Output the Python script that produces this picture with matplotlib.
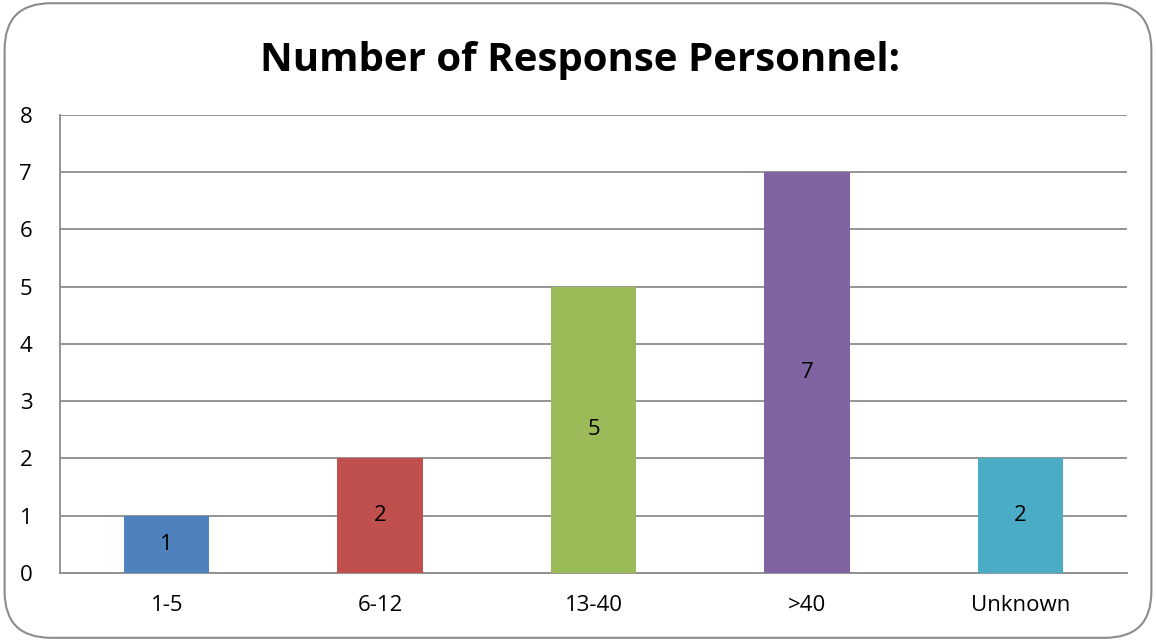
import matplotlib
matplotlib.use('Agg')
import matplotlib.pyplot as plt
from matplotlib.patches import FancyBboxPatch

plt.rcParams['font.family'] = ['Open Sans', 'DejaVu Sans']

# Response personnel counts per group
categories = ['1-5', '6-12', '13-40', '>40', 'Unknown']
counts = [1, 2, 5, 7, 2]
colors = ['#4F81BD', '#C0504D', '#9BBB59', '#8064A2', '#4BACC6']

fig = plt.figure(figsize=(11.56, 6.41), dpi=100)
ax = fig.add_axes([0.0519, 0.1061, 0.9232, 0.7145])

x = range(len(categories))
bars = ax.bar(x, counts, width=0.40, color=colors, zorder=3)
for xi, v in zip(x, counts):
    ax.text(xi, v / 2, str(v), ha='center', va='center', fontsize=16, color='black', zorder=4)

ax.set_xlim(-0.5, len(categories) - 0.5)
ax.set_ylim(0, 8)
ax.set_yticks(range(0, 9))
ax.set_xticks(list(x))
ax.set_xticklabels(categories)
ax.tick_params(axis='both', length=0, labelsize=16)
ax.tick_params(axis='y', pad=20)
ax.tick_params(axis='x', pad=16)
ax.yaxis.grid(True, color='#8C8C8C', linewidth=1.3, zorder=0)
for side in ['top', 'right']:
    ax.spines[side].set_visible(False)
for side in ['left', 'bottom']:
    ax.spines[side].set_color('#8C8C8C')
    ax.spines[side].set_linewidth(1.3)

fig.text(0.502, 0.906, 'Number of Response Personnel:', ha='center', va='center',
         fontsize=29, fontweight='bold')

# rounded frame around the whole chart
frame = FancyBboxPatch((0.004, 0.005), 0.992, 0.99, boxstyle='round,pad=0,rounding_size=0.04',
                       transform=fig.transFigure, fill=False, edgecolor='#8C8C8C', linewidth=1.5,
                       mutation_aspect=1156 / 641)
fig.patches.append(frame)

fig.savefig('out.png', dpi=100)
